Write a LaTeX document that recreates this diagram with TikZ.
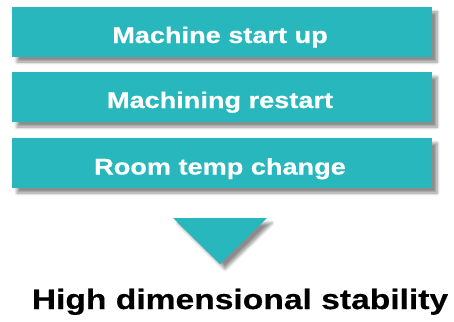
\documentclass[tikz,border=0pt]{standalone}
\usepackage{fontspec}
\newfontfamily\wsans[FakeStretch=1.2,FakeBold=0.5]{Liberation Sans}
\usetikzlibrary{shadows.blur}
\definecolor{teal1}{HTML}{28B7BD}
\tikzset{
  shad/.style={blur shadow={shadow xshift=5pt, shadow yshift=-5pt, shadow blur steps=6, shadow blur radius=3pt, shadow opacity=45}},
  bar/.style={fill=teal1, draw=none, shad},
  bartext/.style={anchor=base, text=white, font=\wsans\bfseries\fontsize{22.6}{26}\selectfont, inner sep=0pt},
  result/.style={anchor=base, text=black, font=\wsans\bfseries\fontsize{28}{32}\selectfont, inner sep=0pt}
}
\begin{document}
\begin{tikzpicture}[x=1pt,y=-1pt]
\useasboundingbox (0,0) rectangle (454,321);
\path[bar] (12,7) rectangle (432,57);
\path[bar] (12,72) rectangle (432,122);
\path[bar] (12,138) rectangle (432,188);
\node[bartext] (t1) at (220,43) {Machine start up};
\node[bartext] (t2) at (220,108) {Machining restart};
\node[bartext] (t3) at (220,174.5) {Room temp change};
\path[bar] (173,218) -- (267,218) -- (220,264) -- cycle;
\node[result] (res) at (240,309) {High dimensional stability};
\end{tikzpicture}
\end{document}
